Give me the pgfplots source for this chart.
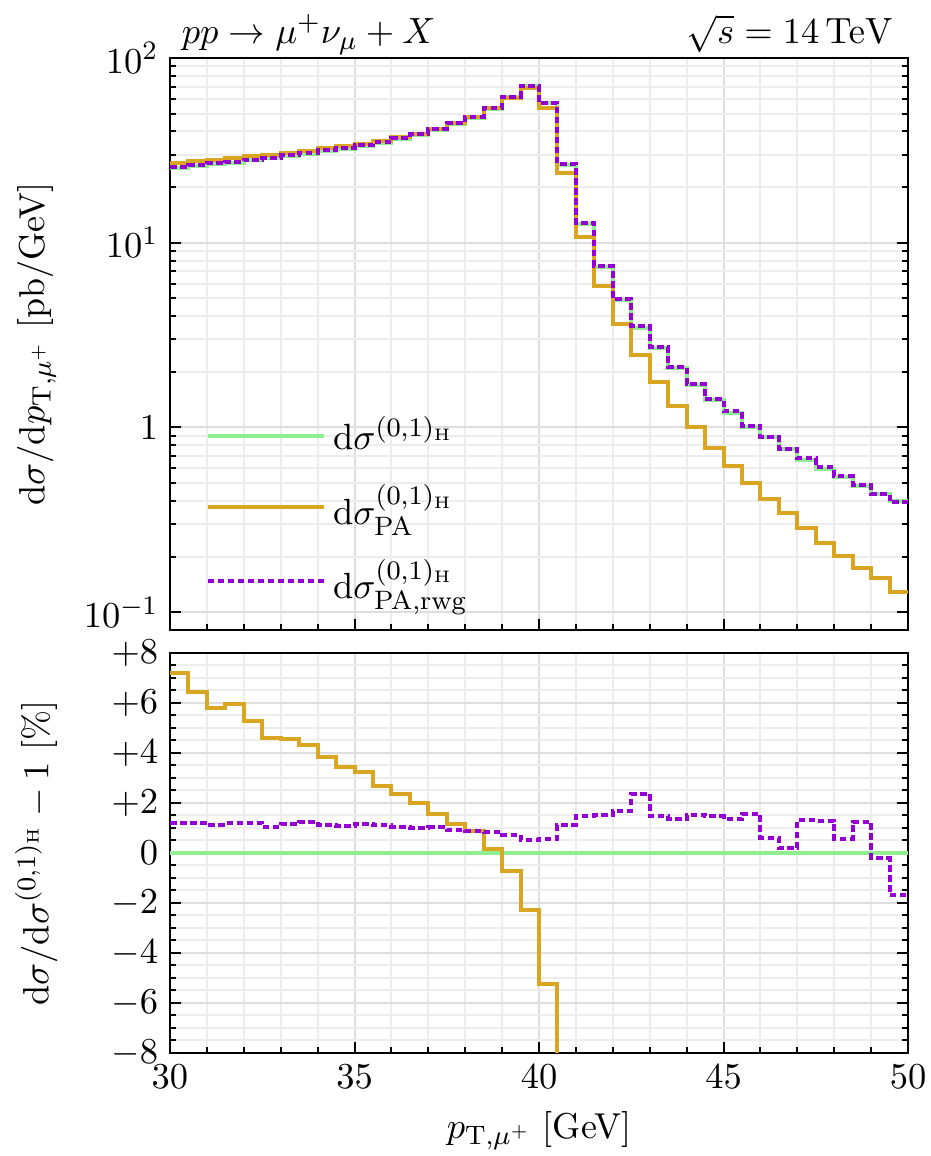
\documentclass[border=0pt]{standalone}
\usepackage{pgfplots}
\usepackage{pgfplotstable}
\pgfplotsset{compat=1.18}
\definecolor{cH}{HTML}{90EE90}
\definecolor{cPA}{HTML}{DAA520}
\definecolor{cRW}{HTML}{9400D3}
\pgfplotstableread{
x    H      PA     RW     rPA    rRW
30.0 25.3   27.1   25.6   7.2    1.2
30.5 26.0   27.67  26.3   6.44   1.2
31.0 26.66  28.2   26.96  5.79   1.13
31.5 27.17  28.8   27.5   5.97   1.2
32.0 27.87  29.34  28.2   5.28   1.2
32.5 28.6   29.92  28.9   4.6    1.05
33.0 29.36  30.7   29.7   4.56   1.16
33.5 30.22  31.53  30.6   4.32   1.24
34.0 31.25  32.45  31.6   3.84   1.13
34.5 32.15  33.25  32.5   3.43   1.08
35.0 33.31  34.39  33.7   3.24   1.16
35.5 34.71  35.64  35.1   2.67   1.11
36.0 36.32  37.18  36.7   2.36   1.04
36.5 38.21  38.97  38.6   2.0    1.01
37.0 40.68  41.32  41.1   1.57   1.02
37.5 43.99  44.5   44.4   1.16   0.93
38.0 47.58  48.0   48.0   0.88   0.89
38.5 53.25  53.34  53.7   0.16   0.84
39.0 61.25  60.8   61.7   -0.74  0.73
39.5 70.43  68.8   70.8   -2.3   0.53
40.0 56.88  53.9   57.2   -5.25  0.57
40.5 26.41  23.9   26.7   -9.5   1.11
41.0 12.57  10.7   12.76  -14.9  1.49
41.5 7.38   5.81   7.49   -21.3  1.51
42.0 4.90   3.64   4.98   -25.7  1.69
42.5 3.45   2.47   3.53   -28.4  2.36
43.0 2.68   1.76   2.72   -34.3  1.47
43.5 2.09   1.30   2.12   -37.8  1.36
44.0 1.70   1.005  1.725  -40.9  1.53
44.5 1.41   0.773  1.43   -45.2  1.47
45.0 1.204  0.615  1.22   -48.9  1.36
45.5 1.004  0.503  1.02   -49.9  1.56
46.0 0.882  0.411  0.887  -53.4  0.60
46.5 0.766  0.346  0.767  -54.8  0.19
47.0 0.670  0.287  0.679  -57.2  1.33
47.5 0.599  0.238  0.607  -60.3  1.29
48.0 0.540  0.202  0.543  -62.6  0.56
48.5 0.481  0.174  0.487  -63.8  1.24
49.0 0.438  0.153  0.437  -65.1  -0.22
49.5 0.401  0.129  0.394  -67.8  -1.67
50.0 0.401  0.129  0.394  -67.8  -1.67
}\data
\pgfplotsset{
  common/.style={
    scale only axis, width=221.4pt,
    xmin=30, xmax=50,
    xtick={30,35,40,45,50}, minor x tick num=4,
    xtick pos=bottom, ytick pos=both, tick align=inside,
    grid=both,
    major grid style={draw=black!13, line width=0.6pt},
    minor grid style={draw=black!7, line width=0.6pt},
    axis line style={line width=0.8pt},
    major tick length=3.2pt, minor tick length=1.7pt,
    every tick/.style={black, line width=0.6pt},
    tick label style={font=\fontsize{10.8}{12}\selectfont},
    label style={font=\fontsize{10.8}{12}\selectfont},
    clip mode=individual,
    y label style={at={(axis description cs:-0.181,0.5)}, anchor=center},
  },
  hist/.style={const plot mark left, no marks, line width=1.2pt},
}
\begin{document}
\begin{tikzpicture}
\path[use as bounding box] (-51pt,17.4pt) rectangle (228pt,-329.4pt);
\begin{axis}[common, name=top, at={(0pt,0pt)}, anchor=north west,
  height=171.6pt, ymode=log, ymin=0.08, ymax=100,
  ytick={0.1,1,10,100}, yticklabels={$10^{-1}$,$1$,$10^{1}$,$10^{2}$},
  xticklabels={},
  ylabel={$\mathrm{d}\sigma/\mathrm{d}p_{\mathrm{T},\mu^+}$ [pb/GeV]},
  legend style={at={(0.034,0.022)}, anchor=south west, draw=none, fill=none,
    font=\fontsize{11}{13}\selectfont, row sep=5pt, cells={anchor=west}},
  legend image code/.code={\draw[#1] (0pt,0pt) -- (27pt,0pt); \path (0pt,0pt) -- (35pt,0pt);},
]
\addlegendimage{cH, line width=1.2pt}
\addlegendentry{$\mathrm{d}\sigma^{(0,1)_\mathrm{H}}$}
\addlegendimage{cPA, line width=1.2pt}
\addlegendentry{$\mathrm{d}\sigma^{(0,1)_\mathrm{H}}_{\mathrm{PA}}$}
\addlegendimage{cRW, line width=1.2pt, dash pattern=on 2pt off 1pt}
\addlegendentry{$\mathrm{d}\sigma^{(0,1)_\mathrm{H}}_{\mathrm{PA,rwg}}$}
\addplot[hist, cH, forget plot] table[x=x, y=H] {\data};
\addplot[hist, cPA, forget plot] table[x=x, y=PA] {\data};
\addplot[hist, cRW, dash pattern=on 2pt off 1pt, forget plot] table[x=x, y=RW] {\data};
\end{axis}
\node[anchor=base west, font=\fontsize{11}{13}\selectfont] at ([yshift=4.2pt]top.north west) {$pp\to\mu^+\nu_\mu+X$};
\node[anchor=base east, font=\fontsize{11}{13}\selectfont] at ([yshift=4.2pt,xshift=-1pt]top.north east) {$\sqrt{s}=14\,\mathrm{TeV}$};
\begin{axis}[common, name=bot, at={(0pt,-178.5pt)}, anchor=north west,
  height=120pt, ymin=-8, ymax=8,
  ytick={-8,-6,-4,-2,0,2,4,6,8},
  yticklabels={$-8$,$-6$,$-4$,$-2$,$0$,$+2$,$+4$,$+6$,$+8$},
  minor y tick num=3,
  xlabel={$p_{\mathrm{T},\mu^+}$ [GeV]},
  ylabel={$\mathrm{d}\sigma/\mathrm{d}\sigma^{(0,1)_\mathrm{H}}-1$ [\%]},
]
\addplot[cH, line width=1.2pt] coordinates {(30,0) (50,0)};
\addplot[hist, cPA] table[x=x, y=rPA] {\data};
\addplot[hist, cRW, dash pattern=on 2pt off 1pt] table[x=x, y=rRW] {\data};
\end{axis}
\end{tikzpicture}
\end{document}
